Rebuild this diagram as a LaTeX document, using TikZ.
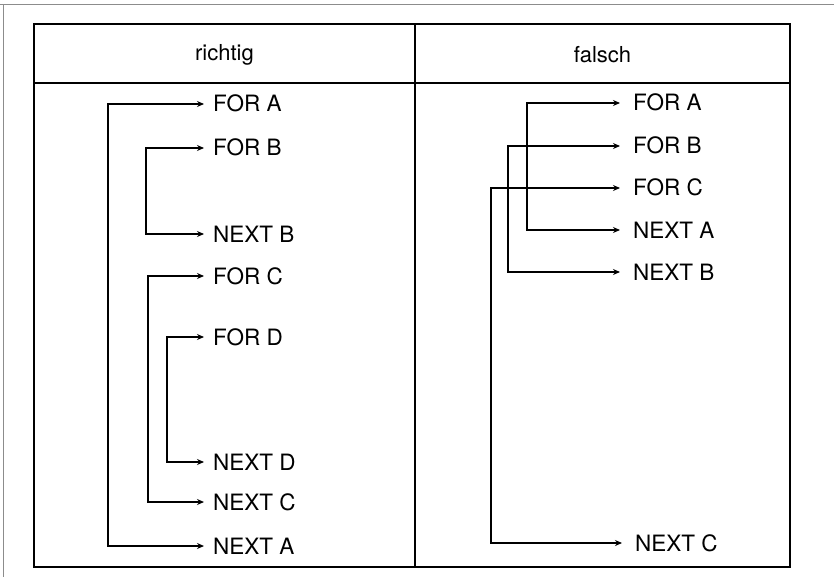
\documentclass[tikz,border=0pt]{standalone}
\usepackage{fontspec}
\setmainfont{TeX Gyre Heros}
\usetikzlibrary{arrows.meta}
\begin{document}
\begin{tikzpicture}[x=1pt,y=-1pt,
  frame/.style={line width=2.6pt,line cap=rect},
  scan/.style={draw=black!45,line width=1pt},
  lbl/.style={anchor=west,inner xsep=9pt,inner ysep=0pt,text height=16pt,text depth=0pt,
    font=\fontsize{22.5}{26}\selectfont},
  lblr/.style={lbl,inner xsep=13pt},
  head/.style={font=\fontsize{22}{26}\selectfont},
  bracketline/.style={line width=1.3pt,{Stealth[length=7pt,width=6pt]}-{Stealth[length=7pt,width=6pt]}}
]
\useasboundingbox (0,0) rectangle (834,577);
% faint scan edges
\draw[scan] (0,5) -- (834,5);
\draw[scan] (3,5) -- (3,577);
% table
\draw[frame] (34,24) rectangle (790,567);
\draw[frame] (34,83) -- (790,83);
\draw[frame] (415,24) -- (415,567);
\node[head] (hl) at (224.5,55) {richtig};
\node[head] (hr) at (602.5,55) {falsch};
% left column
\node[lbl] (lfa) at (204,104) {FOR A};
\node[lbl] (lfb) at (204,148) {FOR B};
\node[lbl] (lnb) at (204,234) {NEXT B};
\node[lbl] (lfc) at (204,276) {FOR C};
\node[lbl] (lfd) at (204,337) {FOR D};
\node[lbl] (lnd) at (204,462) {NEXT D};
\node[lbl] (lnc) at (204,502) {NEXT C};
\node[lbl] (lna) at (204,546) {NEXT A};
\coordinate (va) at (108,104);
\coordinate (vb) at (146,148);
\coordinate (vc) at (148,276);
\coordinate (vd) at (167,337);
\draw[bracketline] (lfa.west) -- (va) |- (lna.west);
\draw[bracketline] (lfb.west) -- (vb) |- (lnb.west);
\draw[bracketline] (lfc.west) -- (vc) |- (lnc.west);
\draw[bracketline] (lfd.west) -- (vd) |- (lnd.west);
% right column
\node[lblr] (rfa) at (620,103) {FOR A};
\node[lblr] (rfb) at (620,146) {FOR B};
\node[lblr] (rfc) at (620,188) {FOR C};
\node[lblr] (rna) at (620,230) {NEXT A};
\node[lblr] (rnb) at (620,272) {NEXT B};
\node[lblr] (rnc) at (622,543) {NEXT C};
\coordinate (wa) at (527,103);
\coordinate (wb) at (508,146);
\coordinate (wc) at (491,188);
\draw[bracketline] (rfa.west) -- (wa) |- (rna.west);
\draw[bracketline] (rfb.west) -- (wb) |- (rnb.west);
\draw[bracketline] (rfc.west) -- (wc) |- (rnc.west);
\end{tikzpicture}
\end{document}
